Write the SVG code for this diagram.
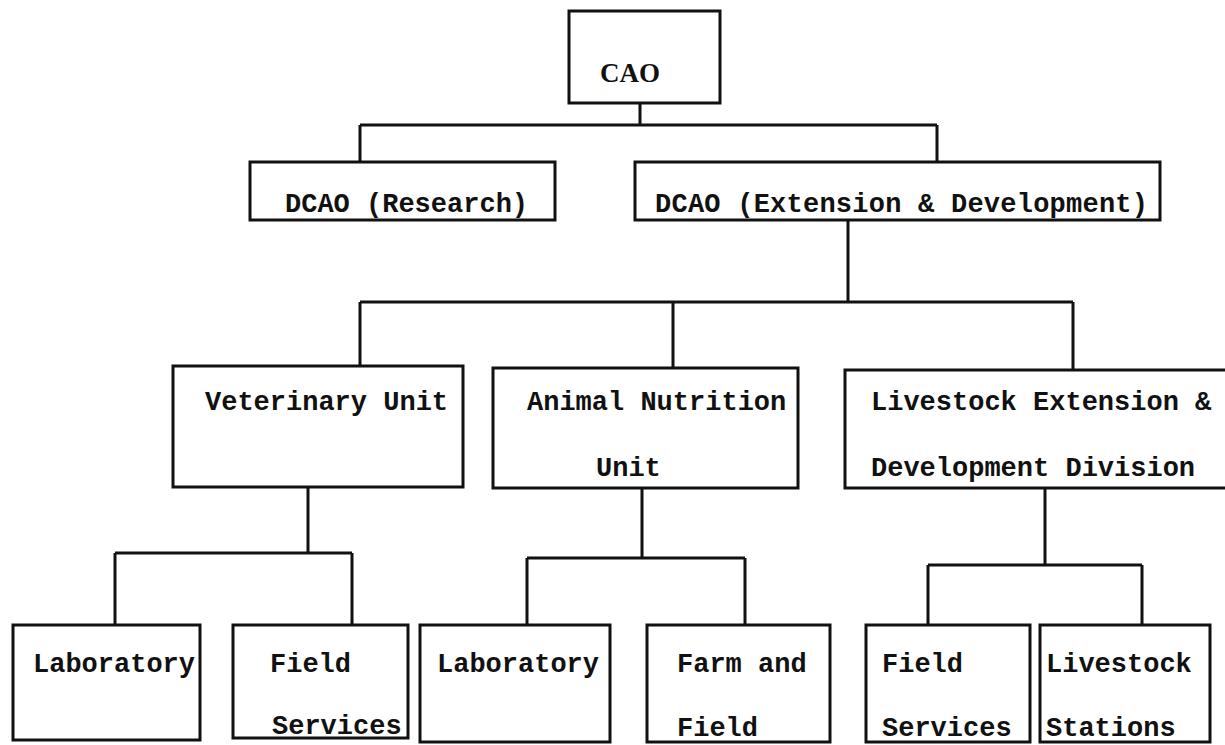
<svg xmlns="http://www.w3.org/2000/svg" width="1225" height="745" viewBox="0 0 1225 745">
<style>
.box{fill:none;stroke:#111;stroke-width:3}
.ln{fill:none;stroke:#111;stroke-width:3}
text{font-family:"Liberation Mono","DejaVu Sans Mono",monospace;font-weight:bold;font-size:27px;fill:#111}
</style>
<rect width="1225" height="745" fill="#fff"/>
<g id="connectors">
<path class="ln" d="M640 103V125M360 125H937M360 125V162M937 125V162"/>
<path class="ln" d="M848 220V302M360 302H1073M360 302V366M673 302V368M1073 302V370"/>
<path class="ln" d="M308 487V553M115 553H352M115 553V625M352 553V625"/>
<path class="ln" d="M642 488V558M527 558H745M527 558V625M745 558V625"/>
<path class="ln" d="M1045 488V565M928 565H1142M928 565V625M1142 565V625"/>
</g>
<g id="cao"><rect class="box" x="569" y="11" width="151" height="92"/><text x="630" y="82" text-anchor="middle" style="font-family:'Liberation Serif',serif;font-size:27px">CAO</text></g>
<g id="dcao-research"><rect class="box" x="250" y="162" width="305" height="58"/><text x="285" y="212">DCAO (Research)</text></g>
<g id="dcao-ext"><rect class="box" x="635" y="162" width="525" height="58"/><text x="655" y="212" textLength="493">DCAO (Extension &amp; Development)</text></g>
<g id="vet"><rect class="box" x="173" y="366" width="290" height="121"/><text x="205" y="410">Veterinary Unit</text></g>
<g id="nutrition"><rect class="box" x="493" y="368" width="305" height="120"/><text x="527" y="410">Animal Nutrition</text><text x="596" y="476">Unit</text></g>
<g id="livestock-div"><rect class="box" x="845" y="370" width="385" height="118"/><text x="871" y="410">Livestock Extension &amp;</text><text x="871" y="476">Development Division</text></g>
<g id="vet-lab"><rect class="box" x="13" y="625" width="187" height="115"/><text x="33" y="672">Laboratory</text></g>
<g id="vet-field"><rect class="box" x="233" y="625" width="175" height="113"/><text x="270" y="672">Field</text><text x="272" y="734">Services</text></g>
<g id="nut-lab"><rect class="box" x="420" y="625" width="190" height="117"/><text x="437" y="672">Laboratory</text></g>
<g id="nut-farm"><rect class="box" x="647" y="625" width="183" height="117"/><text x="677" y="672">Farm and</text><text x="677" y="736">Field</text></g>
<g id="ls-field"><rect class="box" x="866" y="625" width="164" height="117"/><text x="882" y="672">Field</text><text x="882" y="736">Services</text></g>
<g id="ls-stations"><rect class="box" x="1040" y="625" width="170" height="117"/><text x="1046" y="672">Livestock</text><text x="1046" y="736">Stations</text></g>
</svg>
